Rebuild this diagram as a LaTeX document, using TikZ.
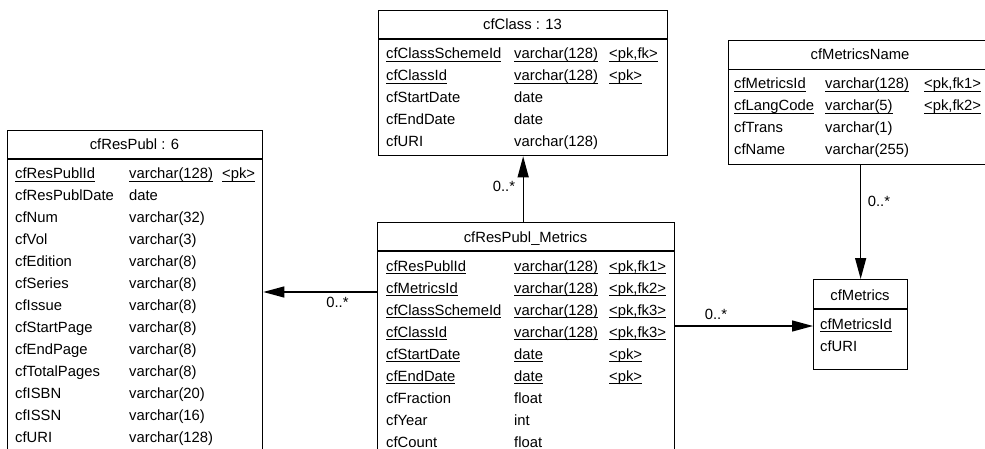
\documentclass[tikz,border=0pt]{standalone}
\usepackage{fontspec}
\setmainfont{Liberation Sans}
\usetikzlibrary{arrows.meta}

% column widths of the attribute rows of the current table
\newlength\colA
\newlength\colB
% underlined key attribute
\newcommand\keyul[1]{\setbox0=\hbox{#1}\rlap{\rule[-3.2pt]{\wd0}{0.9pt}}\box0}
% one attribute row: name, type, key marker
\newcommand\dbrow[3]{\makebox[\colA][l]{#1}\makebox[\colB][l]{#2}#3}

\tikzset{
  erfont/.style={font=\fontsize{14.8}{17}\selectfont},
  tbl/.style={draw, line width=1.3pt, inner sep=0pt, anchor=north west},
  sepline/.style={line width=1.3pt},
  rowtxt/.style={erfont, anchor=base west, inner sep=0pt},
  ttl/.style={erfont, anchor=base, inner sep=0pt},
  mult/.style={erfont, inner sep=0pt},
  link/.style={line width=1.3pt, -{Triangle[length=21pt,width=11pt]}},
}

\begin{document}
\begin{tikzpicture}[x=1pt,y=-1pt]
\useasboundingbox (0,0) rectangle (985,449);
\clip (0,0) rectangle (985,449);
\fill[white] (0,0) rectangle (985,449);

% ---------------- cfClass ----------------
\node[tbl, minimum width=289pt, minimum height=145pt] (cls) at (378,10) {};
\draw[sepline] ([yshift=-29pt]cls.north west) -- ([yshift=-29pt]cls.north east);
\node[ttl] (cls-title) at (522.5,30) {cfClass : 13};
\setlength\colA{128pt}\setlength\colB{95pt}
\foreach \r [count=\i from 0] in {
  {{\keyul{cfClassSchemeId}}{\keyul{varchar(128)}}{\keyul{<pk,fk>}}},
  {{\keyul{cfClassId}}{\keyul{varchar(128)}}{\keyul{<pk>}}},
  {{cfStartDate}{date}{}},
  {{cfEndDate}{date}{}},
  {{cfURI}{varchar(128)}{}}}
  \node[rowtxt] (cls-r\i) at (386,59+22*\i) {\expandafter\dbrow\r};

% ---------------- cfMetricsName (runs past the right edge) ----------------
\node[tbl, minimum width=264pt, minimum height=124pt] (mn) at (728,40) {};
\draw[sepline] ([yshift=-29.5pt]mn.north west) -- ([yshift=-29.5pt]mn.north east);
\node[ttl] (mn-title) at (860,60) {cfMetricsName};
\setlength\colA{91pt}\setlength\colB{99pt}
\foreach \r [count=\i from 0] in {
  {{\keyul{cfMetricsId}}{\keyul{varchar(128)}}{\keyul{<pk,fk1>}}},
  {{\keyul{cfLangCode}}{\keyul{varchar(5)}}{\keyul{<pk,fk2>}}},
  {{cfTrans}{varchar(1)}{}},
  {{cfName}{varchar(255)}{}}}
  \node[rowtxt] (mn-r\i) at (734,89+22*\i) {\expandafter\dbrow\r};

% ---------------- cfResPubl ----------------
\node[tbl, minimum width=255pt, minimum height=340pt] (rp) at (7,130) {};
\draw[sepline] ([yshift=-29pt]rp.north west) -- ([yshift=-29pt]rp.north east);
\node[ttl] (rp-title) at (134.5,150) {cfResPubl : 6};
\setlength\colA{114pt}\setlength\colB{93pt}
\foreach \r [count=\i from 0] in {
  {{\keyul{cfResPublId}}{\keyul{varchar(128)}}{\keyul{<pk>}}},
  {{cfResPublDate}{date}{}},
  {{cfNum}{varchar(32)}{}},
  {{cfVol}{varchar(3)}{}},
  {{cfEdition}{varchar(8)}{}},
  {{cfSeries}{varchar(8)}{}},
  {{cfIssue}{varchar(8)}{}},
  {{cfStartPage}{varchar(8)}{}},
  {{cfEndPage}{varchar(8)}{}},
  {{cfTotalPages}{varchar(8)}{}},
  {{cfISBN}{varchar(20)}{}},
  {{cfISSN}{varchar(16)}{}},
  {{cfURI}{varchar(128)}{}}}
  \node[rowtxt] (rp-r\i) at (15,178.5+22*\i) {\expandafter\dbrow\r};

% ---------------- cfResPubl_Metrics ----------------
\node[tbl, minimum width=297pt, minimum height=250pt] (rm) at (377,222) {};
\draw[sepline] ([yshift=-29pt]rm.north west) -- ([yshift=-29pt]rm.north east);
\node[ttl] (rm-title) at (525.5,242) {cfResPubl\_Metrics};
\setlength\colA{128pt}\setlength\colB{95pt}
\foreach \r [count=\i from 0] in {
  {{\keyul{cfResPublId}}{\keyul{varchar(128)}}{\keyul{<pk,fk1>}}},
  {{\keyul{cfMetricsId}}{\keyul{varchar(128)}}{\keyul{<pk,fk2>}}},
  {{\keyul{cfClassSchemeId}}{\keyul{varchar(128)}}{\keyul{<pk,fk3>}}},
  {{\keyul{cfClassId}}{\keyul{varchar(128)}}{\keyul{<pk,fk3>}}},
  {{\keyul{cfStartDate}}{\keyul{date}}{\keyul{<pk>}}},
  {{\keyul{cfEndDate}}{\keyul{date}}{\keyul{<pk>}}},
  {{cfFraction}{float}{}},
  {{cfYear}{int}{}},
  {{cfCount}{float}{}}}
  \node[rowtxt] (rm-r\i) at (386,271+22*\i) {\expandafter\dbrow\r};

% ---------------- cfMetrics ----------------
\node[tbl, minimum width=94pt, minimum height=90pt] (met) at (813,279) {};
\draw[sepline] ([yshift=-30pt]met.north west) -- ([yshift=-30pt]met.north east);
\node[ttl] (met-title) at (860,300) {cfMetrics};
\node[rowtxt] (met-r0) at (820,329) {\keyul{cfMetricsId}};
\node[rowtxt] (met-r1) at (820,351) {cfURI};

% ---------------- relationships ----------------
\coordinate (jl) at (0,292);
\coordinate (jr) at (0,326);
\draw[link] (rm.north -| cls.south) -- (cls.south);
\node[mult] (m-cls) at (504,186) {0..*};
\draw[link] (rm.west |- jl) -- (rp.east |- jl);
\node[mult] (m-rp) at (337.5,302) {0..*};
\draw[link] (rm.east |- jr) -- (met.west |- jr);
\node[mult] (m-met) at (716,314) {0..*};
\draw[link] (mn.south -| met.north) -- (met.north);
\node[mult] (m-mn) at (879,201) {0..*};
\end{tikzpicture}
\end{document}
